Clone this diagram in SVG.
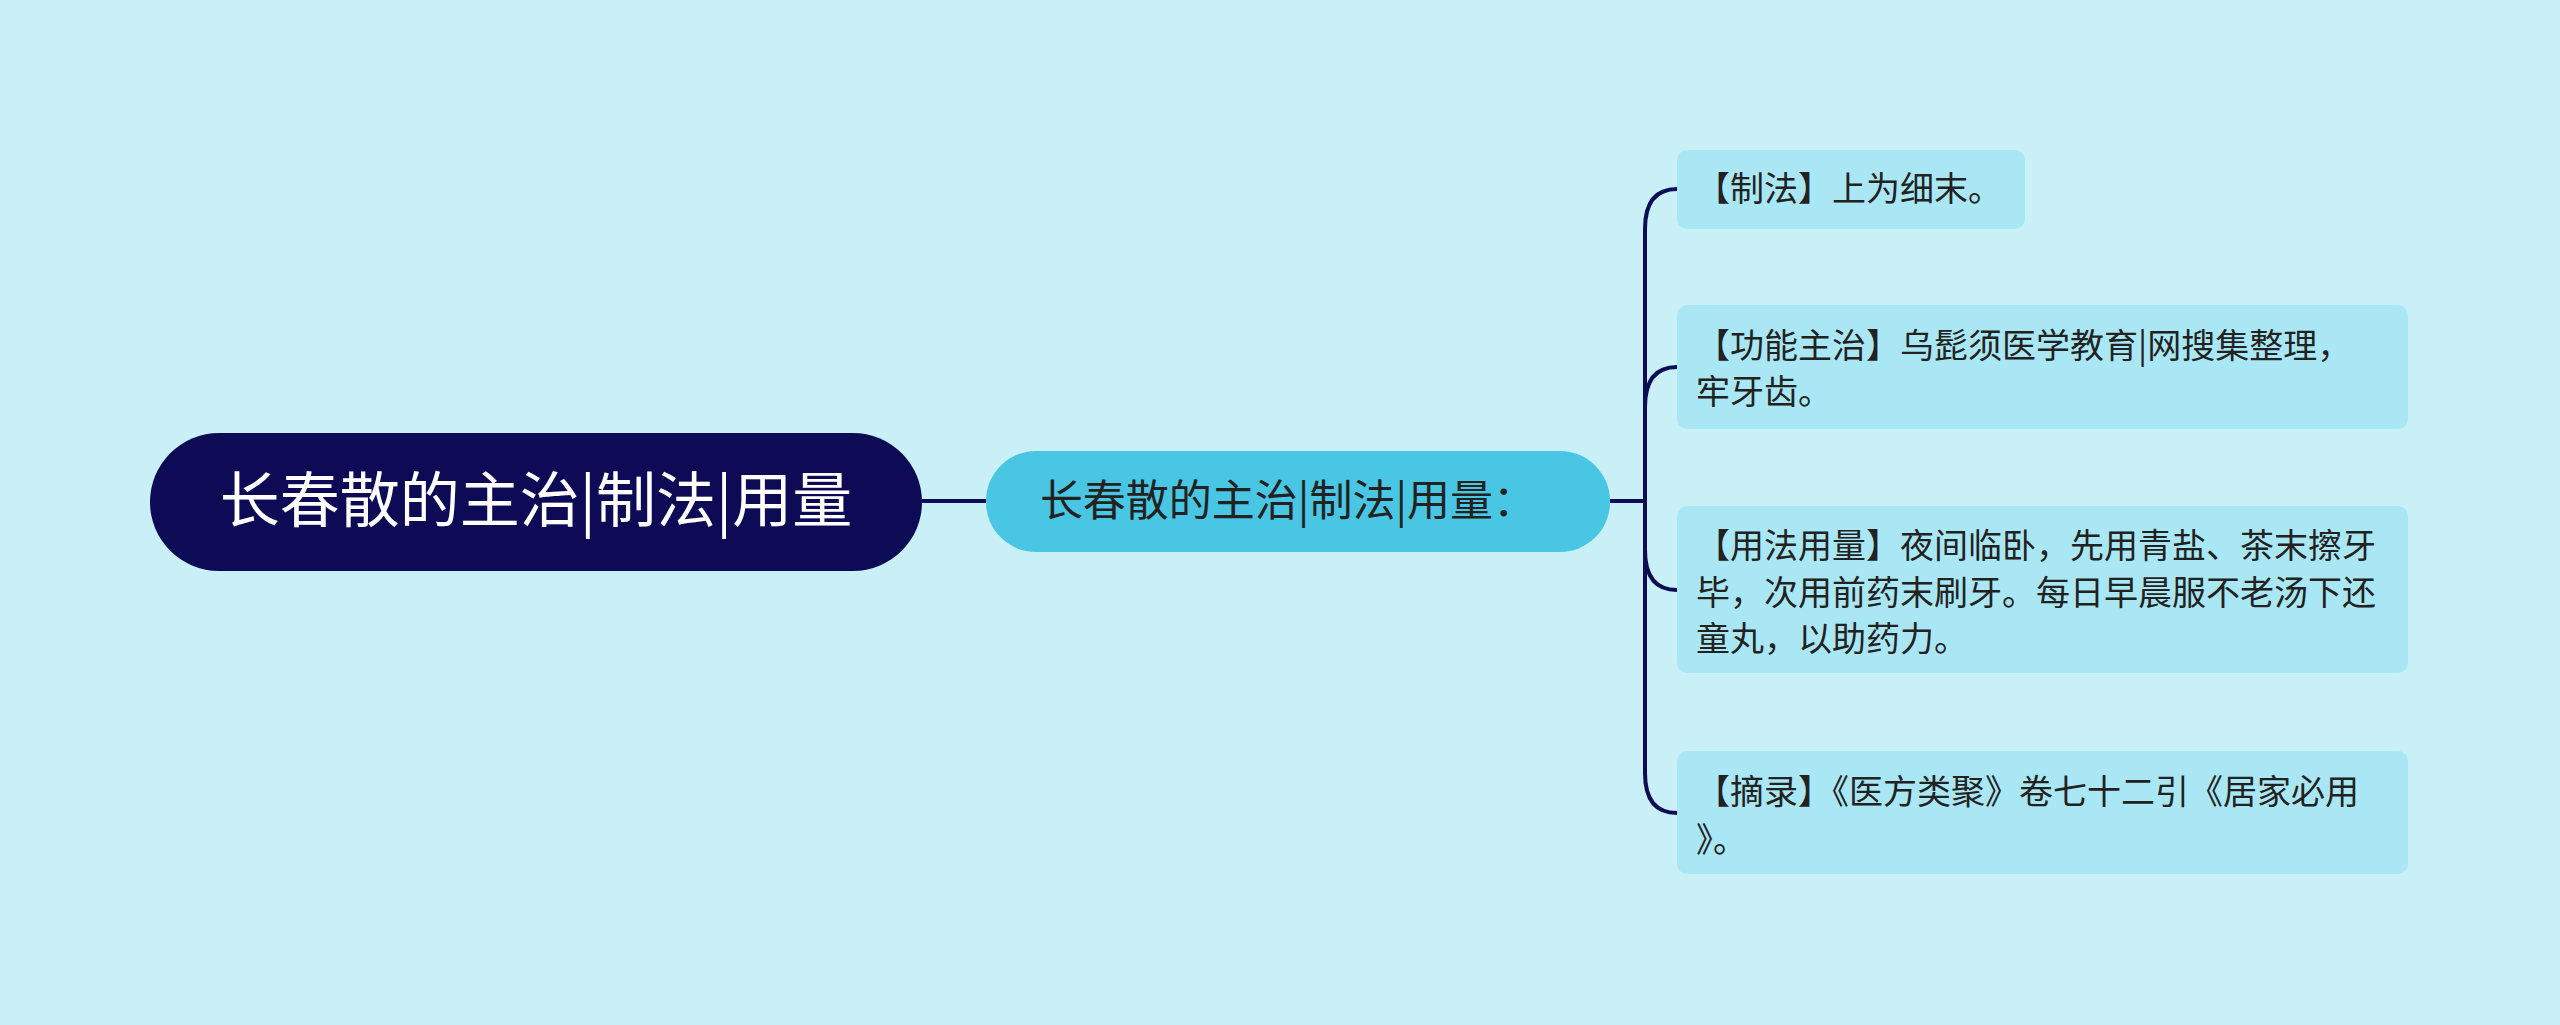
<svg xmlns="http://www.w3.org/2000/svg" width="2560" height="1025" viewBox="0 0 2560 1025">
<style>
text{font-family:"Noto Sans CJK SC","Noto Sans",sans-serif}
.leaf rect{fill:#aae7f4}
.leaf text{font-size:34px;fill:#222}
.c{fill:none;stroke:#0d0c54;stroke-width:4}
</style>
<rect width="2560" height="1025" fill="#c9f0f7"/>
<g id="connectors">
<path class="c" d="M922 501H986"/>
<path class="c" d="M1610 501H1645"/>
<path class="c" d="M1645 501V229Q1645 189 1677 189"/>
<path class="c" d="M1645 501V407Q1645 367 1677 367"/>
<path class="c" d="M1645 501V550Q1645 590 1677 590"/>
<path class="c" d="M1645 501V773Q1645 813 1677 813"/>
</g>
<g id="root"><rect x="150" y="433" width="772" height="138" rx="69" fill="#0e0b56"/><text x="536" y="522" font-size="60" fill="#fff" text-anchor="middle">长春散的主治|制法|用量</text></g>
<g id="center"><rect x="986" y="451" width="624" height="101" rx="50" fill="#48c6e3"/><text x="1288" y="516" font-size="43" fill="#222" text-anchor="middle">长春散的主治|制法|用量：</text></g>
<g id="leaf1" class="leaf"><rect x="1677" y="150" width="348" height="79" rx="10"/><text x="1696" y="201">【制法】上为细末。</text></g>
<g id="leaf2" class="leaf"><rect x="1677" y="305" width="731" height="124" rx="10"/><text x="1696" y="358">【功能主治】乌髭须医学教育|网搜集整理，</text><text x="1696" y="404">牢牙齿。</text></g>
<g id="leaf3" class="leaf"><rect x="1677" y="506" width="731" height="167" rx="10"/><text x="1696" y="558">【用法用量】夜间临卧，先用青盐、茶末擦牙</text><text x="1696" y="605">毕，次用前药末刷牙。每日早晨服不老汤下还</text><text x="1696" y="651">童丸，以助药力。</text></g>
<g id="leaf4" class="leaf"><rect x="1677" y="751" width="731" height="123" rx="10"/><text x="1696" y="804">【摘录】《医方类聚》卷七十二引《居家必用</text><text x="1696" y="852">》。</text></g>
</svg>
